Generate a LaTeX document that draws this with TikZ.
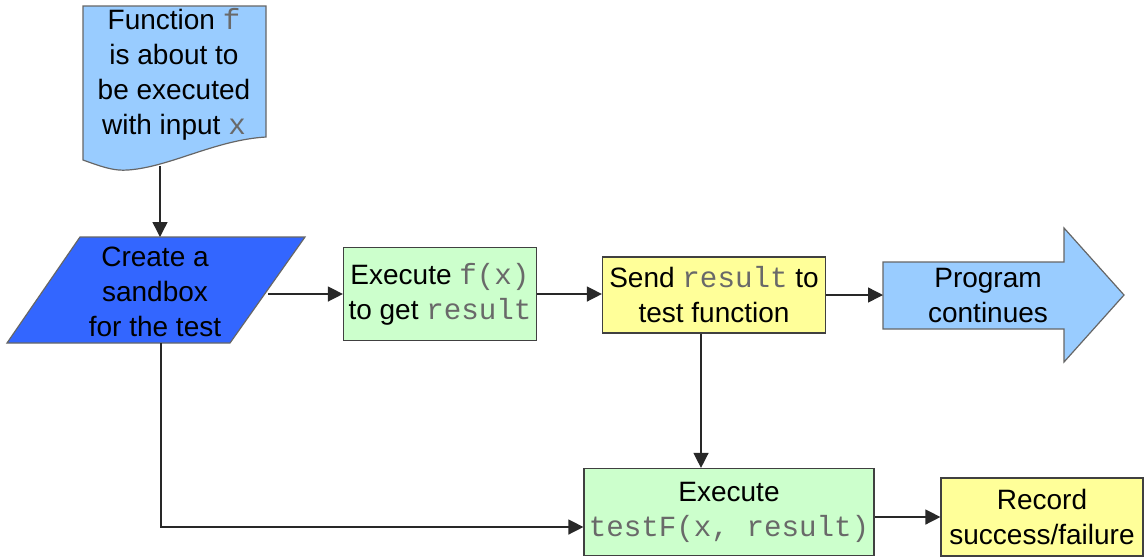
\documentclass[tikz,border=0pt]{standalone}
\usepackage{fontspec}
\setmainfont{Liberation Sans}
\setmonofont{Liberation Mono}
\usetikzlibrary{arrows.meta,positioning,calc}
\definecolor{cdoc}{RGB}{153,204,255}
\definecolor{csbx}{RGB}{51,102,255}
\definecolor{crun}{RGB}{204,255,204}
\definecolor{cmsg}{RGB}{255,255,153}
\definecolor{cline}{RGB}{40,40,40}
\definecolor{ccode}{RGB}{105,105,105}
\newcommand{\code}[1]{{\ttfamily\fontsize{14.6}{17.5}\selectfont\color{ccode}#1}}

\begin{document}
\begin{tikzpicture}[
  x=0.5pt,y=-0.5pt,
  font=\fontsize{14}{17.5}\selectfont,>={Triangle[length=7.5pt,width=7.5pt]},
  shp/.style={draw=black!60,line width=0.6pt},
  box/.style={draw=black!75,line width=0.6pt,inner sep=0pt,align=center},
  txt/.style={inner sep=0pt,align=center},
  conn/.style={->,draw=cline,line width=0.7pt}
]
\useasboundingbox (0,0) rectangle (1144,559);

% ---- shapes drawn by hand ----
\draw[shp,fill=cdoc] (83,6) -- (266,6) -- (266,137)
  .. controls (215,140) and (170,167) .. (128,170)
  .. controls (115,171) and (105,168) .. (83,160) -- cycle;
\draw[shp,fill=csbx] (80,237) -- (305,237) -- (230,343) -- (7,343) -- cycle;
\draw[shp,fill=cdoc] (883,262) -- (1064,262) -- (1064,228) -- (1124,295)
  -- (1064,362) -- (1064,329) -- (883,329) -- cycle;

% ---- texts and boxes ----
\node[txt] (doc) at (174,74) {Function \code{f}\\is about to\\be executed\\with input \code{x}};
\node[txt] (sandbox) at (155,292) {Create a\\sandbox\\for the test};
\node[box,fill=crun,minimum width=96.5pt,minimum height=46.5pt] (runf) at (440,294)
  {Execute \code{f(x)}\\to get \code{result}};
\node[box,fill=cmsg,minimum width=111.5pt,minimum height=38pt] (send) at (714,295)
  {Send \code{result} to\\test function};
\node[txt] (cont) at (988,295) {Program\\continues};
\node[box,fill=crun,minimum width=145pt,minimum height=43.5pt] (runtest) at (729,512)
  {Execute\\\code{testF(x, result)}};
\node[box,fill=cmsg,minimum width=101pt,minimum height=39pt] (record) at (1042,517)
  {Record\\success/failure};

% ---- end points on the drawn shapes ----
\coordinate (docb) at (160,166);
\coordinate (sbtop) at (160,237);
\coordinate (sbright) at (268,294);
\coordinate (sbbot) at (161,343);
\coordinate (contin) at (883,295);
\coordinate (sendout) at ($(send.south)+(-13,0)$);

% ---- connectors ----
\draw[conn] (docb) -- (sbtop);
\draw[conn] (sbright) -- (runf.west);
\draw[conn] (runf.east) -- (runf.east -| send.west);
\draw[conn] (send.east) -- (contin);
\draw[conn] (sendout) -- (sendout |- runtest.north);
\draw[conn] (sbbot) |- ($(runtest.west)+(0,15)$);
\draw[conn] (runtest.east |- record.west) -- (record.west);
\end{tikzpicture}
\end{document}
